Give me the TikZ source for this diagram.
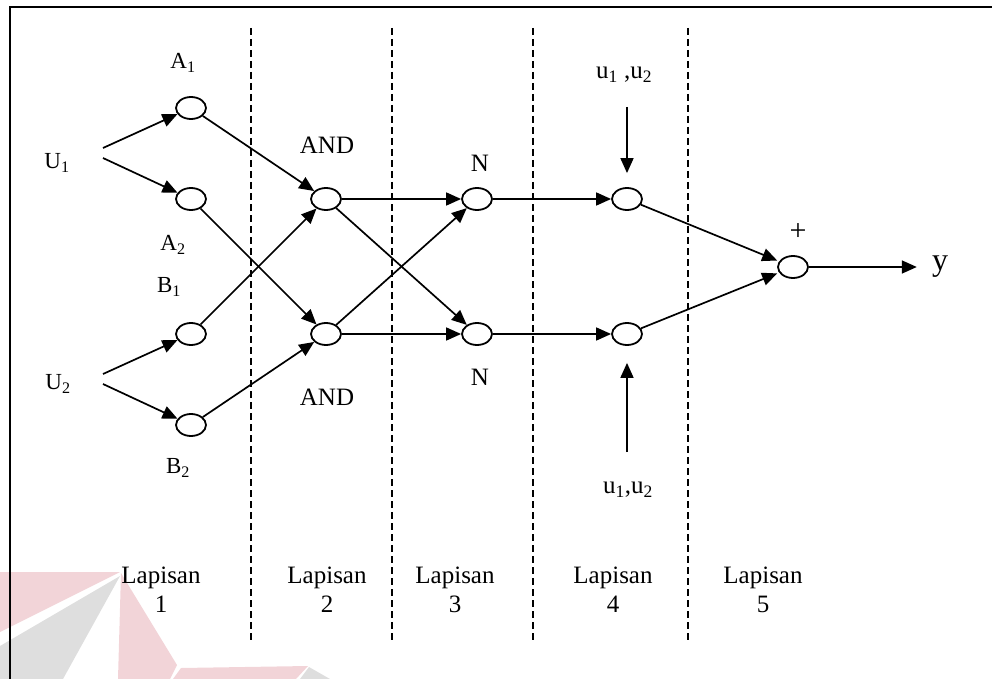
\documentclass[tikz,border=0pt]{standalone}
\usepackage{fontspec}
\setmainfont{Liberation Serif}
\usetikzlibrary{shapes.geometric,arrows.meta}
\definecolor{wmpink}{RGB}{242,212,216}
\definecolor{wmgray}{RGB}{222,222,222}
\tikzset{
  unit/.style={ellipse,draw,line width=1.8pt,minimum width=30pt,minimum height=22pt,inner sep=0pt},
  arr/.style={line width=1.7pt,-{Triangle[length=15pt,width=13pt]}},
  divider/.style={line width=1.6pt,dash pattern=on 7pt off 4pt},
  lbl/.style={font=\fontsize{23}{27}\selectfont,inner sep=0pt},
  biglbl/.style={font=\fontsize{25}{30}\selectfont,inner sep=0pt},
  layerlbl/.style={font=\fontsize{25}{29}\selectfont,align=center,inner sep=0pt},
}
\begin{document}
\begin{tikzpicture}[x=1pt,y=-1pt]
\useasboundingbox (0,0) rectangle (992,679);

% faint logo in the lower left corner
\fill[wmpink] (0,572) -- (120,572) -- (0,632) -- cycle;
\fill[wmgray] (120,576) -- (0,646) -- (0,679) -- (63,679) -- cycle;
\fill[wmpink] (121,573) -- (177,665) -- (170,679) -- (118,679) -- cycle;
\fill[wmpink] (181,668) -- (308,666) -- (296,679) -- (173,679) -- cycle;
\fill[wmgray] (309,667) -- (330,679) -- (300,679) -- cycle;

% frame
\draw[line width=2.2pt] (992,7) -- (10,7) -- (10,679);

% layer dividers
\foreach \xx in {251,392,533,688}
  \draw[divider] (\xx,28) -- (\xx,640);

% nodes
\node[unit] (A1) at (191,108) {};
\node[unit] (A2) at (191,199) {};
\node[unit] (B1) at (191,334) {};
\node[unit] (B2) at (191,425) {};
\node[unit] (AND1) at (326,199) {};
\node[unit] (AND2) at (326,334) {};
\node[unit] (N1) at (477,199) {};
\node[unit] (N2) at (477,334) {};
\node[unit] (L4a) at (627,199) {};
\node[unit] (L4b) at (627,334) {};
\node[unit] (sum) at (793,267) {};

% inputs and labels
\node[lbl] (U1) at (57,163) {U\textsubscript{1}};
\node[lbl] (U2) at (58,384) {U\textsubscript{2}};
\coordinate (U1a) at (103,148);
\coordinate (U1b) at (103,158);
\coordinate (U2a) at (103,374);
\coordinate (U2b) at (103,384);
\node[lbl] at (183,63) {A\textsubscript{1}};
\node[lbl] at (173,245) {A\textsubscript{2}};
\node[lbl] at (169,287) {B\textsubscript{1}};
\node[lbl] at (178,468) {B\textsubscript{2}};
\node[biglbl] at (327,145) {AND};
\node[biglbl] at (327,397) {AND};
\node[biglbl] at (480,163) {N};
\node[biglbl] at (480,377) {N};
\node[biglbl] at (624,75) {u\textsubscript{1} ,u\textsubscript{2}};
\node[biglbl] at (628,490) {u\textsubscript{1},u\textsubscript{2}};
\coordinate (topin) at (627,107);
\coordinate (botin) at (627,452);
\node[font=\fontsize{30}{34}\selectfont,inner sep=0pt] at (798,232) {+};
\node[font=\fontsize{32}{36}\selectfont,inner sep=0pt] (y) at (940,267) {y};

% layer captions
\node[layerlbl] at (161,590) {Lapisan\\1};
\node[layerlbl] at (327,590) {Lapisan\\2};
\node[layerlbl] at (455,590) {Lapisan\\3};
\node[layerlbl] at (613,590) {Lapisan\\4};
\node[layerlbl] at (763,590) {Lapisan\\5};

% connectors
\draw[arr] (U1a) -- (A1);
\draw[arr] (U1b) -- (A2);
\draw[arr] (U2a) -- (B1);
\draw[arr] (U2b) -- (B2);
\draw[arr] (A1) -- (AND1);
\draw[arr] (A2) -- (AND2);
\draw[arr] (B1) -- (AND1);
\draw[arr] (B2) -- (AND2);
\draw[arr] (AND1) -- (N1);
\draw[arr] (AND1) -- (N2);
\draw[arr] (AND2) -- (N1);
\draw[arr] (AND2) -- (N2);
\draw[arr] (N1) -- (L4a);
\draw[arr] (N2) -- (L4b);
\draw[arr,shorten >=2pt] (L4a) -- (sum);
\draw[arr,shorten >=2pt] (L4b) -- (sum);
\draw[arr,shorten >=15pt] (sum) -- (y);
\draw[arr,shorten >=14pt] (topin) -- (L4a.north);
\draw[arr,shorten >=17pt] (botin) -- (L4b.south);
\end{tikzpicture}
\end{document}
